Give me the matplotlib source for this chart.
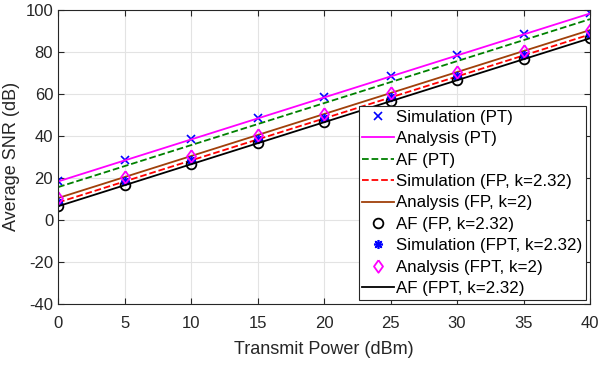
import matplotlib
matplotlib.use('Agg')
from matplotlib import pyplot as plt

plt.rcParams['font.family'] = ['Liberation Sans', 'DejaVu Sans']
plt.rcParams['axes.unicode_minus'] = False

power = [0, 5, 10, 15, 20, 25, 30, 35, 40]

sim_pt = [18.3, 28.3, 38.3, 48.3, 58.3, 68.3, 78.3, 88.3, 98.3]
ana_pt = [18.3, 28.3, 38.3, 48.3, 58.3, 68.3, 78.3, 88.3, 98.3]
af_pt = [15.6, 25.6, 35.6, 45.6, 55.6, 65.6, 75.6, 85.6, 95.6]
sim_fp = [8.3, 18.3, 28.3, 38.3, 48.3, 58.3, 68.3, 78.3, 88.3]
ana_fp = [10.4, 20.4, 30.4, 40.4, 50.4, 60.4, 70.4, 80.4, 90.4]
af_fp = [6.5, 16.5, 26.5, 36.5, 46.5, 56.5, 66.5, 76.5, 86.5]
sim_fpt = [8.3, 18.3, 28.3, 38.3, 48.3, 58.3, 68.3, 78.3, 88.3]
ana_fpt = [10.4, 20.4, 30.4, 40.4, 50.4, 60.4, 70.4, 80.4, 90.4]
af_fpt = [6.5, 16.5, 26.5, 36.5, 46.5, 56.5, 66.5, 76.5, 86.5]

# matlab style tall diamond
diamond = [(0, 1), (0.72, 0), (0, -1), (-0.72, 0), (0, 1)]

fig = plt.figure(figsize=(5.99, 3.67), dpi=100)
ax = fig.add_axes([0.097, 0.172, 0.888, 0.801])

ax.plot(power, sim_pt, 'x', color='#0000ff', ms=6, mew=1.2, label='Simulation (PT)')
ax.plot(power, ana_pt, '-', color='#ff00ff', lw=1.3, label='Analysis (PT)')
ax.plot(power, af_pt, '--', color='#008000', lw=1.3, label='AF (PT)')
ax.plot(power, sim_fp, '--', color='#ff0000', lw=1.3, label='Simulation (FP, k=2.32)')
ax.plot(power, ana_fp, '-', color='#a0400a', lw=1.3, label='Analysis (FP, k=2)')
ax.plot(power, af_fp, 'o', color='black', mfc='none', ms=7, mew=1.3, label='AF (FP, k=2.32)')
ax.plot(power, sim_fpt, marker=(8, 2, 0), ls='none', color='#0000ff', ms=6.5, mew=1.2,
        label='Simulation (FPT, k=2.32)')
ax.plot(power, ana_fpt, marker=diamond, ls='none', color='#ff00ff', mfc='none', ms=9, mew=1.3,
        label='Analysis (FPT, k=2)')
ax.plot(power, af_fpt, '-', color='black', lw=1.3, label='AF (FPT, k=2.32)')

ax.set_xlim(0, 40)
ax.set_ylim(-40, 100)
ax.set_xticks(range(0, 41, 5))
ax.set_yticks(range(-40, 101, 20))
ax.grid(True, color='#e3e3e3', lw=0.8)
ax.set_axisbelow(True)
ax.tick_params(direction='in', top=True, right=True, labelsize=12, colors='#262626', length=4)
ax.tick_params(axis='x', pad=9)
for s in ax.spines.values():
    s.set_color('#262626')
    s.set_linewidth(0.8)

ax.set_xlabel('Transmit Power (dBm)', fontsize=13, color='#262626', labelpad=7)
ax.set_ylabel('Average SNR (dB)', fontsize=13, color='#262626')

leg = ax.legend(loc='lower right', fontsize=12.2, fancybox=False, framealpha=1,
                edgecolor='#262626', handlelength=1.85, handletextpad=0.15,
                labelspacing=0.38, borderpad=0.2, borderaxespad=0.25)
leg.get_frame().set_linewidth(0.8)

plt.savefig('out.png', dpi=100)
